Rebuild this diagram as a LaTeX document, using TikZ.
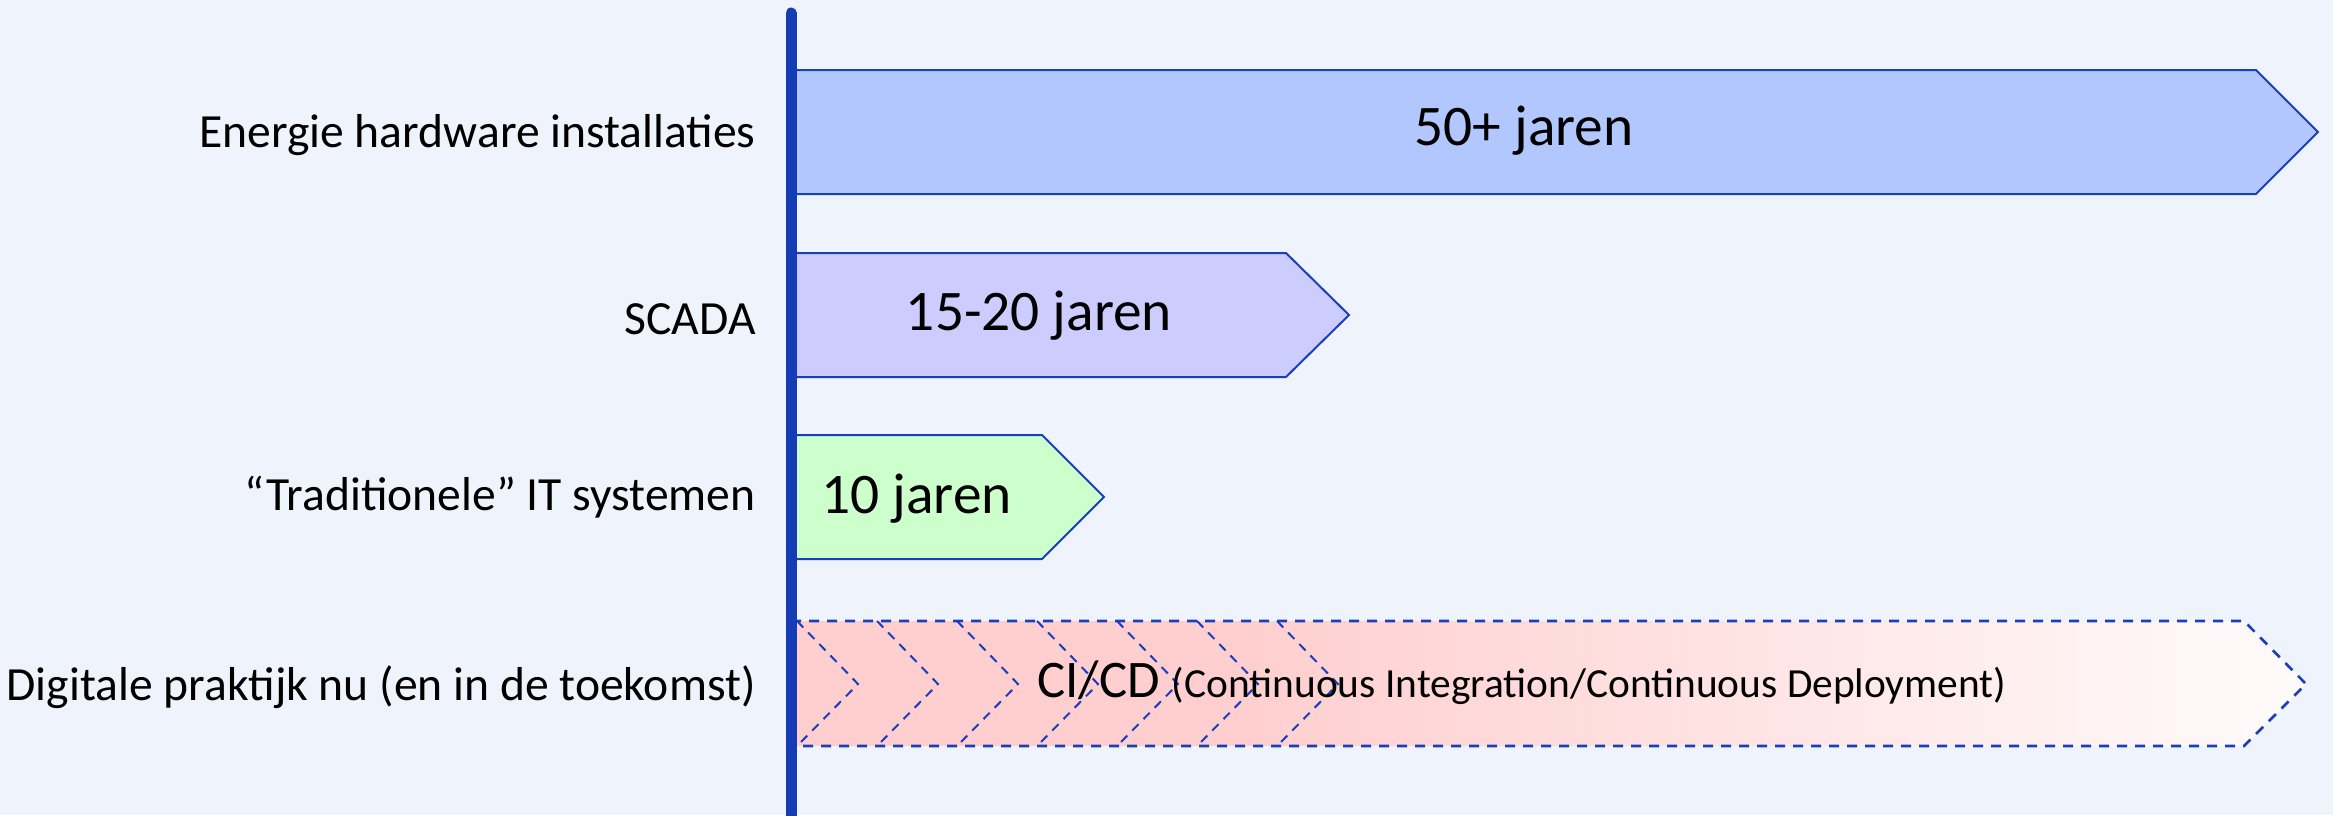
\documentclass[tikz,border=0pt]{standalone}
\usepackage{fontspec}
\setmainfont{Carlito}
\usepackage{tikz}
\usetikzlibrary{positioning}

\definecolor{bg}{HTML}{EFF3FB}
\definecolor{edgeblue}{HTML}{1A3FBE}
\definecolor{axisblue}{HTML}{143CB4}
\definecolor{fillA}{HTML}{B3C7FF}
\definecolor{fillB}{HTML}{CCCCFF}
\definecolor{fillC}{HTML}{CCFFCC}
\definecolor{fillD}{HTML}{FFCFCF}
\definecolor{fillE}{HTML}{FFFBFB}
\pgfdeclarehorizontalshading{cifade}{100bp}{color(0bp)=(fillD); color(25bp)=(fillD);
  color(40bp)=(fillD); color(75bp)=(fillE); color(100bp)=(fillE)}

\begin{document}
\begin{tikzpicture}[x=0.5pt,y=-0.5pt]
  \tikzset{
    bar/.style={draw=edgeblue, line width=1pt, line join=miter},
    rowlabel/.style={anchor=base east, inner sep=0pt, font=\fontsize{23.8}{28}\selectfont},
    bartext/.style={anchor=base, inner sep=0pt, font=\fontsize{28.7}{34}\selectfont},
  }
  \fill[bg] (0,0) rectangle (2333,815);
  \useasboundingbox (0,0) rectangle (2333,815);

 % bars
 \filldraw[bar, fill=fillA] (791,70) -- (2256,70) -- (2318,132) -- (2256,194) -- (791,194) -- cycle;
 \filldraw[bar, fill=fillB] (791,253) -- (1286,253) -- (1349,315) -- (1286,377) -- (791,377) -- cycle;
 \filldraw[bar, fill=fillC] (791,435) -- (1042,435) -- (1104,497) -- (1042,559) -- (791,559) -- cycle;
 \shade[shading=cifade] (791,621) -- (2244,621) -- (2306,684) -- (2244,746) -- (791,746) -- cycle;
 \draw[bar, line width=1.3pt, dash pattern=on 5pt off 4pt] (791,621) -- (2244,621) -- (2306,684) -- (2244,746) -- (791,746);
 \foreach \x in {797,877,957,1037,1117,1197,1277}
   \draw[edgeblue, line width=1pt, dash pattern=on 4.5pt off 3.5pt] (\x,621) -- ({\x+61},684) -- (\x,746);

 % axis
 \draw[axisblue, line width=5.5pt, line cap=round] (791,13) -- (791,840);

 % labels
 \node[rowlabel] (energie) at (756,147) {Energie hardware installaties};
 \node[rowlabel] (scada) at (756,334) {SCADA};
 \node[rowlabel] (trad) at (756,510) {“Traditionele” IT systemen};
 \node[rowlabel] (digi) at (756,700) {Digitale praktijk nu (en in de toekomst)};

 \node[bartext] (jaren50) at (1524,145) {50+ jaren};
 \node[bartext] (jaren15) at (1039,330) {15-20 jaren};
 \node[bartext, anchor=base west] (jaren10) at (821,513) {10 jaren};
 \node[anchor=base west, inner sep=0pt, font=\fontsize{26.4}{32}\selectfont] (cicd) at (1037,697)
   {CI/CD {\fontsize{20.7}{24}\selectfont(Continuous Integration/Continuous Deployment)}};

\end{tikzpicture}
\end{document}
